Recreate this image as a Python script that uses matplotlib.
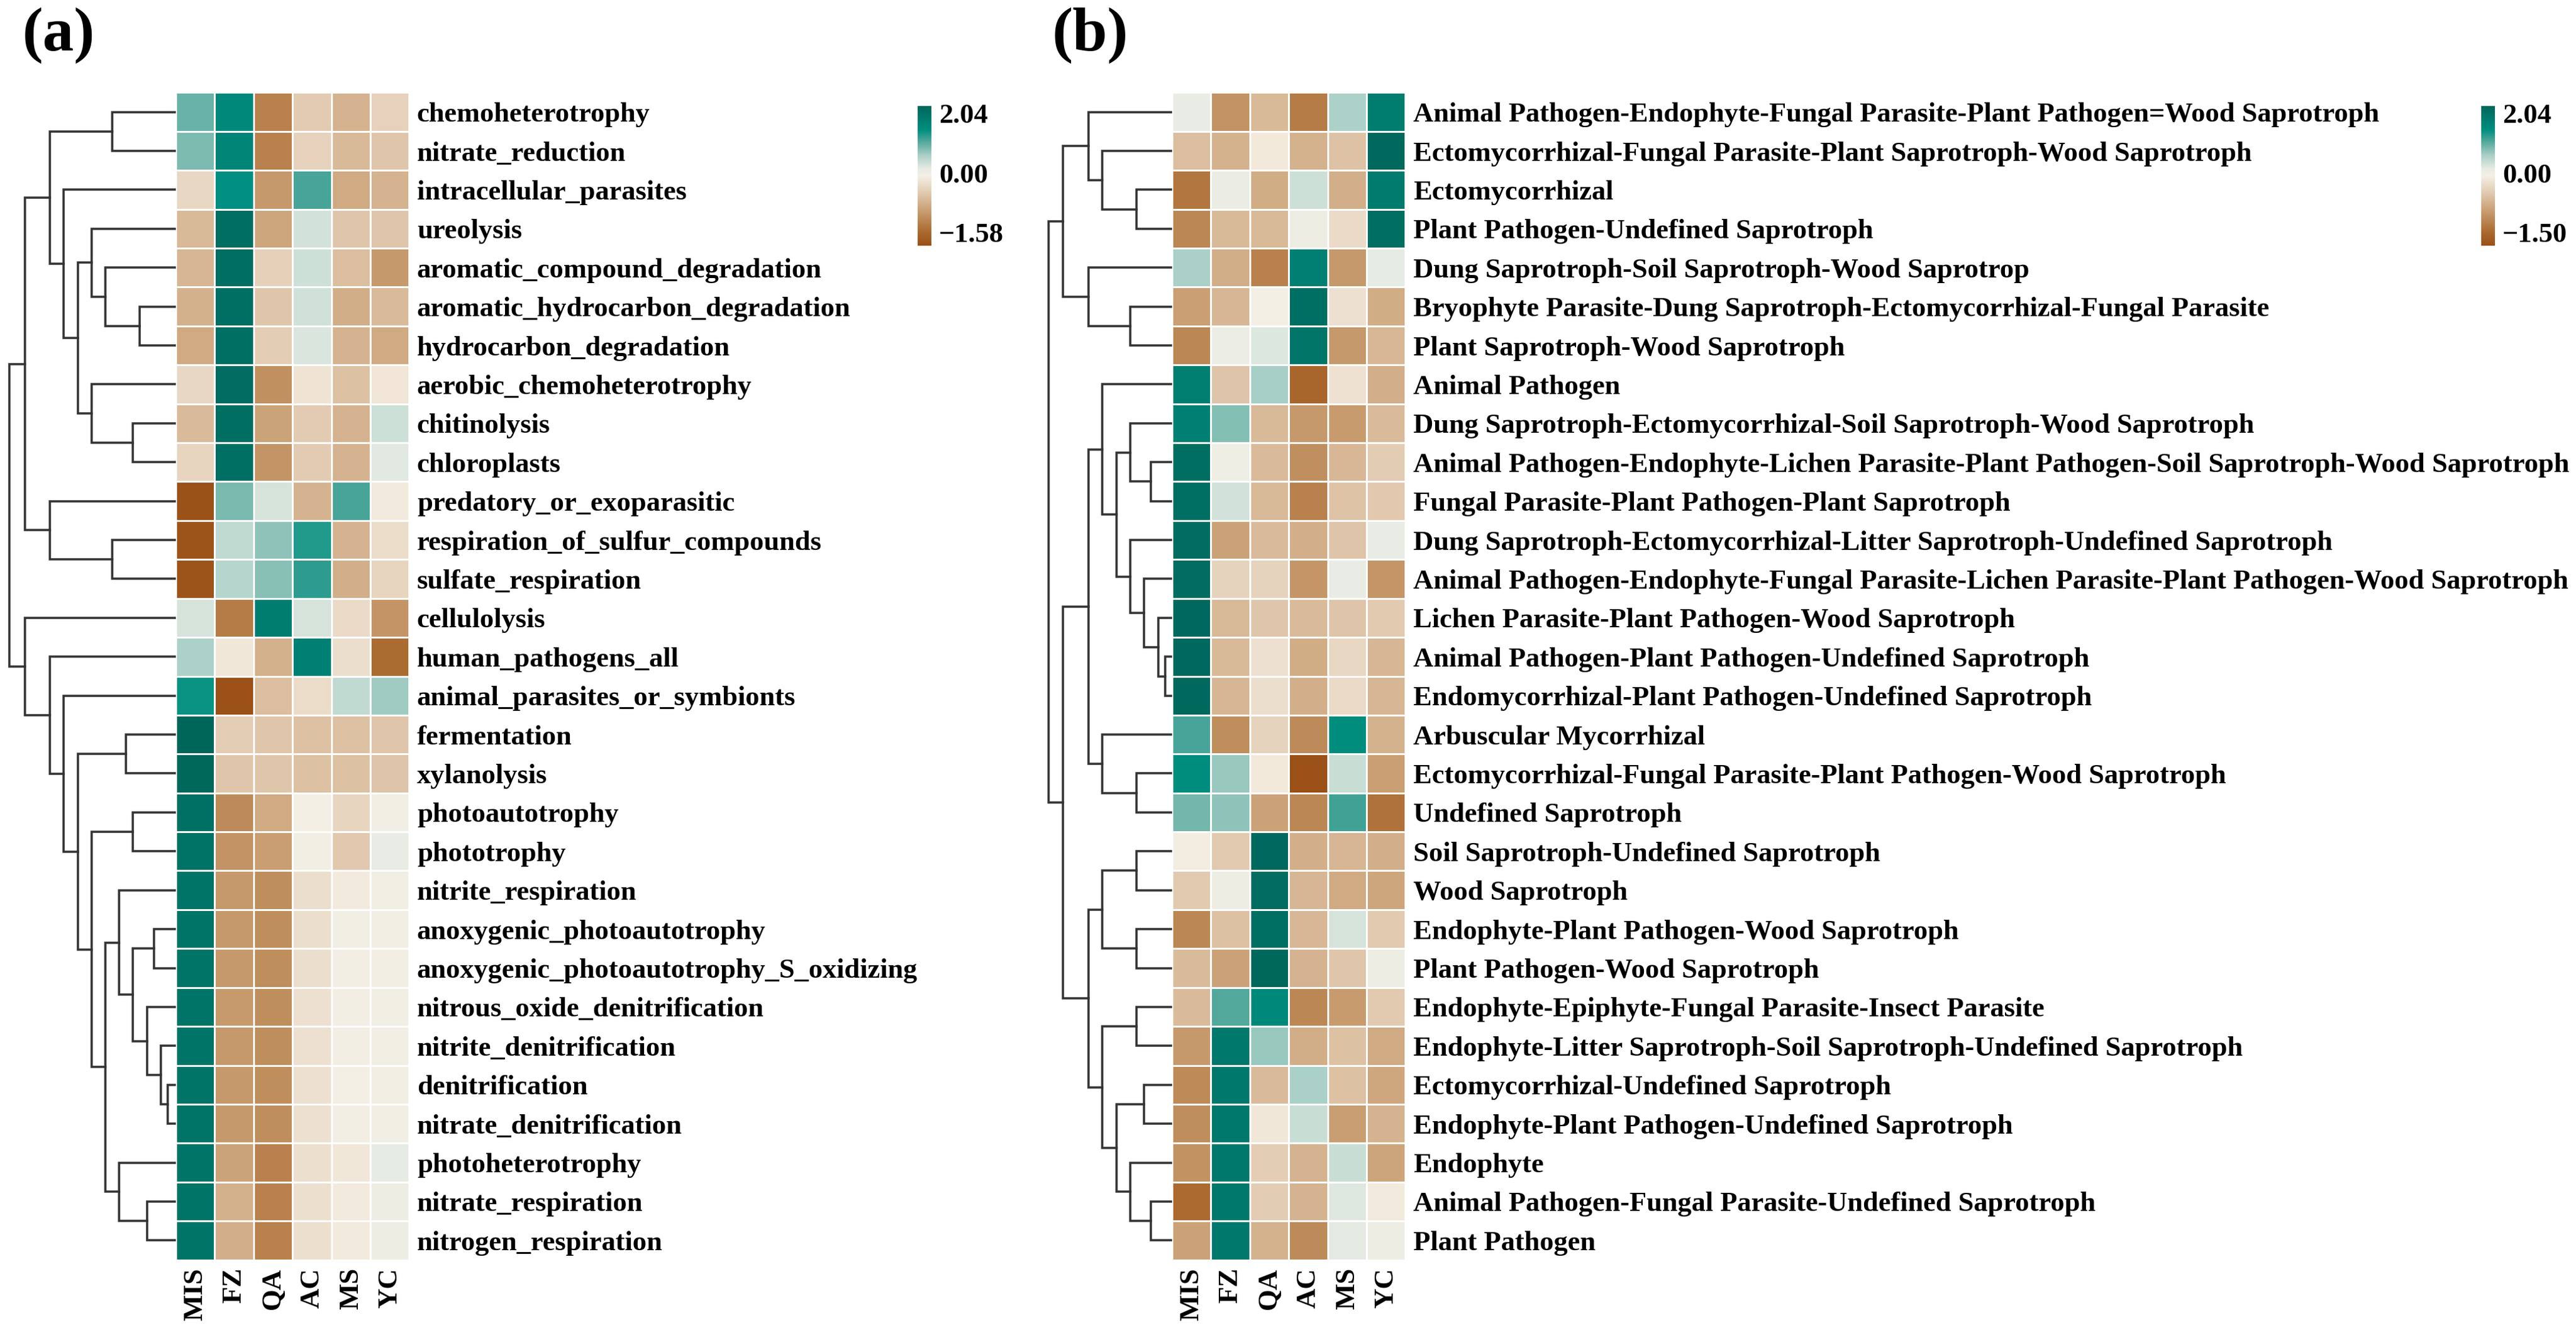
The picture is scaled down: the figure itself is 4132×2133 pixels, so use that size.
import matplotlib
matplotlib.use("Agg")
import matplotlib.pyplot as plt
import numpy as np
from matplotlib.colors import LinearSegmentedColormap, TwoSlopeNorm

plt.rcParams['font.family'] = ['Liberation Serif', 'DejaVu Serif']
plt.rcParams['font.weight'] = 'bold'

samples = ['MIS', 'FZ', 'QA', 'AC', 'MS', 'YC']

# ---------- panel (a): FAPROTAX functions (row z-scores) ----------
func_a = ['chemoheterotrophy', 'nitrate_reduction', 'intracellular_parasites', 'ureolysis',
          'aromatic_compound_degradation', 'aromatic_hydrocarbon_degradation',
          'hydrocarbon_degradation', 'aerobic_chemoheterotrophy', 'chitinolysis', 'chloroplasts',
          'predatory_or_exoparasitic', 'respiration_of_sulfur_compounds', 'sulfate_respiration',
          'cellulolysis', 'human_pathogens_all', 'animal_parasites_or_symbionts', 'fermentation',
          'xylanolysis', 'photoautotrophy', 'phototrophy', 'nitrite_respiration',
          'anoxygenic_photoautotrophy', 'anoxygenic_photoautotrophy_S_oxidizing',
          'nitrous_oxide_denitrification', 'nitrite_denitrification', 'denitrification',
          'nitrate_denitrification', 'photoheterotrophy', 'nitrate_respiration',
          'nitrogen_respiration']
z_a = [
    [0.90, 1.45, -1.05, -0.38, -0.60, -0.30],
    [0.80, 1.50, -1.05, -0.30, -0.55, -0.42],
    [-0.25, 1.35, -0.85, 1.05, -0.68, -0.60],
    [-0.55, 1.90, -0.72, 0.35, -0.42, -0.42],
    [-0.58, 1.90, -0.33, 0.38, -0.50, -0.85],
    [-0.62, 1.88, -0.42, 0.36, -0.65, -0.52],
    [-0.68, 1.88, -0.35, 0.30, -0.60, -0.68],
    [-0.25, 1.92, -0.92, -0.12, -0.48, -0.10],
    [-0.52, 1.90, -0.75, -0.38, -0.60, 0.38],
    [-0.28, 1.88, -0.88, -0.38, -0.60, 0.25],
    [-1.55, 0.82, 0.33, -0.60, 1.05, -0.05],
    [-1.52, 0.45, 0.72, 1.20, -0.60, -0.20],
    [-1.52, 0.52, 0.75, 1.15, -0.63, -0.28],
    [0.33, -1.10, 1.65, 0.33, -0.22, -0.88],
    [0.58, -0.08, -0.62, 1.60, -0.18, -1.25],
    [1.30, -1.58, -0.50, -0.20, 0.45, 0.65],
    [2.04, -0.35, -0.42, -0.47, -0.47, -0.42],
    [2.02, -0.42, -0.42, -0.48, -0.48, -0.44],
    [1.85, -0.97, -0.68, 0.02, -0.28, 0.05],
    [1.82, -0.90, -0.80, 0.05, -0.40, 0.18],
    [1.80, -0.85, -0.95, -0.18, -0.05, 0.05],
    [1.80, -0.85, -0.95, -0.18, 0.05, 0.05],
    [1.80, -0.85, -0.95, -0.18, 0.04, 0.04],
    [1.80, -0.83, -0.95, -0.16, 0.04, 0.05],
    [1.80, -0.84, -0.95, -0.16, 0.04, 0.05],
    [1.80, -0.84, -0.95, -0.16, 0.03, 0.05],
    [1.80, -0.84, -0.95, -0.16, 0.04, 0.05],
    [1.80, -0.75, -1.05, -0.17, -0.08, 0.22],
    [1.80, -0.62, -1.05, -0.17, -0.05, 0.12],
    [1.80, -0.63, -1.05, -0.17, -0.05, 0.12],
]
# row dendrogram (a): [child1, child2, height]; leaves 0-29, merged nodes numbered from 30
link_a = [
    [5, 6, 58], [4, 30, 113], [3, 31, 135], [8, 9, 69], [7, 33, 135], [32, 34, 157],
    [2, 35, 180], [0, 1, 102], [37, 36, 202], [11, 12, 102], [10, 39, 202], [38, 40, 242],
    [25, 26, 13], [24, 42, 24], [23, 43, 46], [21, 22, 35], [45, 44, 69], [20, 46, 91],
    [28, 29, 46], [27, 48, 91], [47, 49, 113], [18, 19, 69], [51, 50, 135], [16, 17, 80],
    [53, 52, 157], [15, 54, 180], [14, 55, 202], [13, 56, 242], [41, 57, 267],
]

# ---------- panel (b): FUNGuild guilds (row z-scores) ----------
guild_b = ['Animal Pathogen-Endophyte-Fungal Parasite-Plant Pathogen=Wood Saprotroph',
           'Ectomycorrhizal-Fungal Parasite-Plant Saprotroph-Wood Saprotroph',
           'Ectomycorrhizal',
           'Plant Pathogen-Undefined Saprotroph',
           'Dung Saprotroph-Soil Saprotroph-Wood Saprotrop',
           'Bryophyte Parasite-Dung Saprotroph-Ectomycorrhizal-Fungal Parasite',
           'Plant Saprotroph-Wood Saprotroph',
           'Animal Pathogen',
           'Dung Saprotroph-Ectomycorrhizal-Soil Saprotroph-Wood Saprotroph',
           'Animal Pathogen-Endophyte-Lichen Parasite-Plant Pathogen-Soil Saprotroph-Wood Saprotroph',
           'Fungal Parasite-Plant Pathogen-Plant Saprotroph',
           'Dung Saprotroph-Ectomycorrhizal-Litter Saprotroph-Undefined Saprotroph',
           'Animal Pathogen-Endophyte-Fungal Parasite-Lichen Parasite-Plant Pathogen-Wood Saprotroph',
           'Lichen Parasite-Plant Pathogen-Wood Saprotroph',
           'Animal Pathogen-Plant Pathogen-Undefined Saprotroph',
           'Endomycorrhizal-Plant Pathogen-Undefined Saprotroph',
           'Arbuscular Mycorrhizal',
           'Ectomycorrhizal-Fungal Parasite-Plant Pathogen-Wood Saprotroph',
           'Undefined Saprotroph',
           'Soil Saprotroph-Undefined Saprotroph',
           'Wood Saprotroph',
           'Endophyte-Plant Pathogen-Wood Saprotroph',
           'Plant Pathogen-Wood Saprotroph',
           'Endophyte-Epiphyte-Fungal Parasite-Insect Parasite',
           'Endophyte-Litter Saprotroph-Soil Saprotroph-Undefined Saprotroph',
           'Ectomycorrhizal-Undefined Saprotroph',
           'Endophyte-Plant Pathogen-Undefined Saprotroph',
           'Endophyte',
           'Animal Pathogen-Fungal Parasite-Undefined Saprotroph',
           'Plant Pathogen']
z_b = [
    [0.18, -0.85, -0.52, -1.05, 0.58, 1.65],
    [-0.48, -0.58, -0.07, -0.58, -0.44, 2.00],
    [-1.10, 0.15, -0.63, 0.38, -0.60, 1.68],
    [-0.95, -0.52, -0.52, 0.12, -0.20, 1.90],
    [0.60, -0.62, -1.00, 1.58, -0.80, 0.22],
    [-0.75, -0.55, 0.03, 1.88, -0.15, -0.63],
    [-0.95, 0.14, 0.28, 1.78, -0.80, -0.53],
    [1.62, -0.42, 0.62, -1.25, -0.13, -0.60],
    [1.60, 0.78, -0.52, -0.80, -0.78, -0.50],
    [1.90, 0.08, -0.50, -0.88, -0.53, -0.35],
    [1.88, 0.35, -0.52, -1.00, -0.43, -0.38],
    [1.92, -0.72, -0.50, -0.60, -0.42, 0.18],
    [1.92, -0.27, -0.28, -0.83, 0.18, -0.83],
    [2.00, -0.52, -0.40, -0.50, -0.42, -0.37],
    [2.00, -0.52, -0.15, -0.63, -0.24, -0.55],
    [2.00, -0.55, -0.17, -0.60, -0.20, -0.55],
    [1.05, -0.90, -0.27, -0.92, 1.38, -0.58],
    [1.38, 0.68, -0.07, -1.50, 0.40, -0.75],
    [0.85, 0.72, -0.72, -0.95, 1.07, -1.13],
    [-0.03, -0.37, 2.00, -0.60, -0.55, -0.60],
    [-0.37, 0.10, 1.92, -0.55, -0.65, -0.68],
    [-0.95, -0.45, 1.88, -0.53, 0.33, -0.37],
    [-0.50, -0.72, 2.02, -0.57, -0.40, 0.12],
    [-0.50, 1.00, 1.45, -0.95, -0.78, -0.37],
    [-0.80, 1.72, 0.68, -0.62, -0.45, -0.65],
    [-0.93, 1.72, -0.50, 0.60, -0.45, -0.67],
    [-0.90, 1.72, -0.08, 0.40, -0.76, -0.57],
    [-0.86, 1.72, -0.33, -0.57, 0.40, -0.70],
    [-1.20, 1.72, -0.34, -0.57, 0.26, -0.05],
    [-0.72, 1.72, -0.58, -0.92, 0.23, 0.10],
]
link_b = [
    [2, 3, 57], [1, 30, 112], [0, 31, 134], [5, 6, 67], [4, 33, 134], [32, 34, 175],
    [9, 10, 34], [8, 36, 67], [14, 15, 11.5], [13, 38, 22], [12, 39, 45], [11, 40, 67],
    [37, 41, 89], [7, 42, 112], [17, 18, 57], [16, 44, 112], [43, 45, 134],
    [19, 20, 57], [21, 22, 57], [47, 48, 112], [28, 29, 34], [27, 50, 67], [25, 26, 45],
    [52, 51, 89], [23, 24, 57], [54, 53, 112], [49, 55, 134], [46, 56, 175], [35, 57, 198],
]
range_a = (-1.58, 2.04)
range_b = (-1.50, 2.04)

# colour ramp: brown - cream - teal
ramp_pos = [0.0, 0.10, 0.25, 0.38, 0.50, 0.55, 0.65, 0.75, 0.83, 1.0]
ramp_col = ['#9a5017', '#ab6b31', '#c99f73', '#e2cbb2', '#f5efe4', '#e8ece4',
            '#a8cfc6', '#4fa69a', '#008f80', '#00665a']
cmap = LinearSegmentedColormap.from_list('brtl', list(zip(ramp_pos, ramp_col)))

W, H = 4132, 2133
fig = plt.figure(figsize=(W / 300, H / 300), dpi=300)


def px_axes(x0, y0, x1, y1):
    return fig.add_axes([x0 / W, 1 - y1 / H, (x1 - x0) / W, (y1 - y0) / H])


TOP, CELL = 148.5, 62.4
BOT = TOP + 30 * CELL
FS = 10.75


def draw_dendro(ax, link, n):
    pos = {i: i + 0.5 for i in range(n)}
    hgt = {i: 0.0 for i in range(n)}
    for k, (a, b, h) in enumerate(link):
        ya, yb = pos[a], pos[b]
        ax.plot([hgt[a], h, h, hgt[b]], [ya, ya, yb, yb], color='#333333', lw=0.85,
                solid_capstyle='projecting', solid_joinstyle='miter')
        pos[n + k] = (ya + yb) / 2
        hgt[n + k] = h
    ax.set_ylim(n, 0)
    ax.axis('off')


def draw_panel(xl, names, vals, link, vrange, dend_w, cbar_x, tag, tag_x):
    data = np.array(vals)
    norm = TwoSlopeNorm(vmin=vrange[0], vcenter=0.0, vmax=vrange[1])
    ax = px_axes(xl, TOP, xl + 6 * CELL, BOT)
    ax.pcolormesh(data, cmap=cmap, norm=norm, edgecolors='white', linewidth=0.7)
    ax.set_xlim(0, 6)
    ax.set_ylim(len(names), 0)
    ax.yaxis.tick_right()
    ax.set_yticks(np.arange(len(names)) + 0.5)
    ax.set_yticklabels(names, fontsize=FS, fontweight='bold')
    ax.set_xticks(np.arange(6) + 0.5)
    ax.set_xticklabels(samples, rotation=90, fontsize=FS, fontweight='bold')
    ax.tick_params(length=0, pad=3.0)
    for s in ax.spines.values():
        s.set_visible(False)

    dax = px_axes(xl - dend_w, TOP, xl, BOT)
    dax.set_xlim(dend_w, 0)
    draw_dendro(dax, link, len(names))

    cax = px_axes(cbar_x, 170, cbar_x + 22, 394)
    grad = np.linspace(1, 0, 256).reshape(-1, 1)
    cax.imshow(grad, cmap=cmap, aspect='auto', extent=(0, 1, 0, 1))
    cax.axis('off')
    tx = (cbar_x + 34) / W
    fig.text(tx, 1 - 166 / H, f'{vrange[1]:.2f}', fontsize=FS, fontweight='bold', va='top')
    fig.text(tx, 1 - 282 / H, '0.00', fontsize=FS, fontweight='bold', va='center')
    fig.text(tx, 1 - 397 / H, f'{vrange[0]:.2f}'.replace('-', '\u2212'), fontsize=FS,
             fontweight='bold', va='bottom')
    fig.text(tag_x / W, 1 - 12 / H, tag, fontsize=24, fontweight='bold', va='top')


draw_panel(282, func_a, z_a, link_a, range_a, 282, 1472, '(a)', 36)
draw_panel(1880, guild_b, z_b, link_b, range_b, 250, 3980, '(b)', 1688)

fig.savefig('out.png', dpi=300, facecolor='white')
